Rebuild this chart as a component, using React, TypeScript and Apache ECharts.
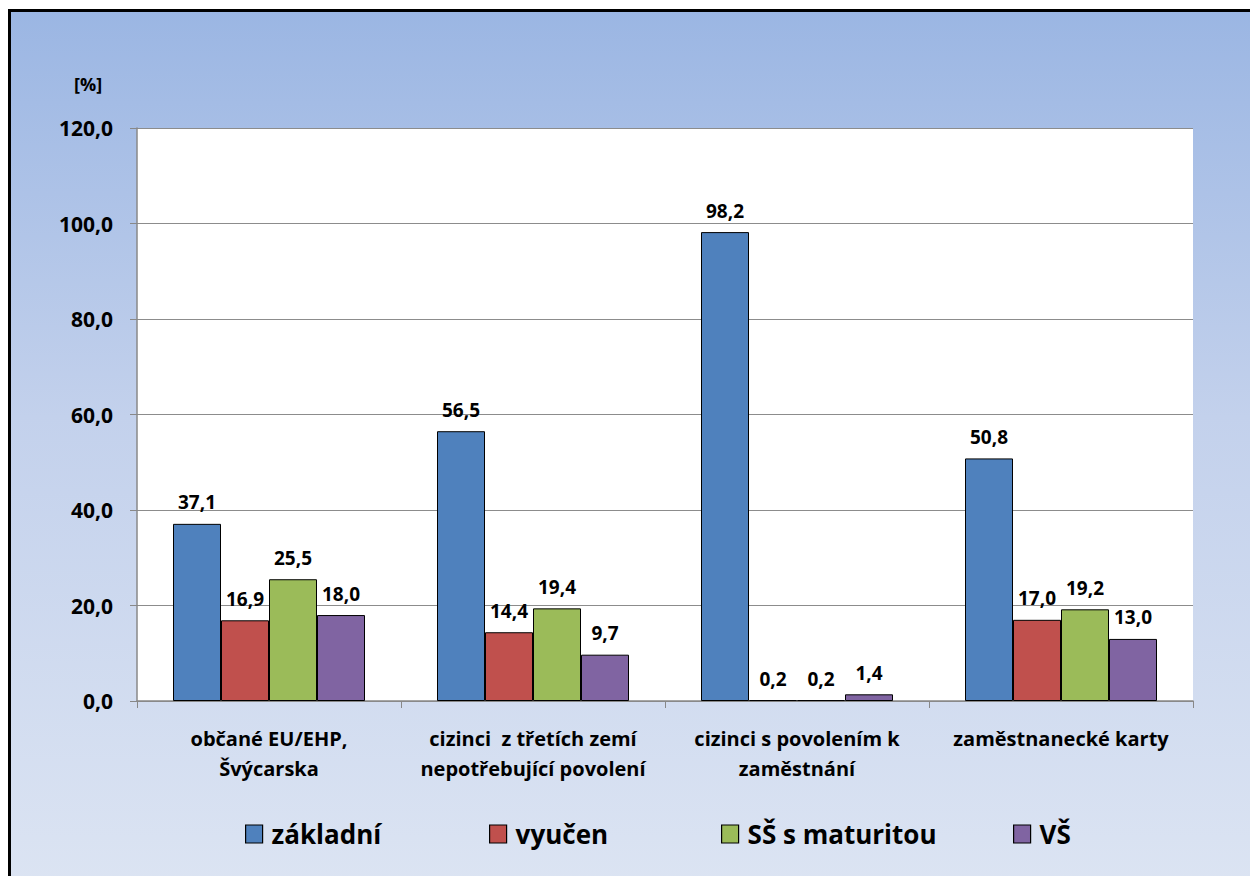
import React, { useEffect, useRef } from "react";
import * as echarts from "echarts";

const categories = [
  "občané EU/EHP,\nŠvýcarska",
  "cizinci  z třetích zemí\nnepotřebující povolení",
  "cizinci s povolením k\nzaměstnání",
  "zaměstnanecké karty",
];
const seriesNames = ["základní", "vyučen", "SŠ s maturitou", "VŠ"];
const zakladni = [37.1, 56.5, 98.2, 50.8];
const vyucen = [16.9, 14.4, 0.2, 17.0];
const maturita = [25.5, 19.4, 0.2, 19.2];
const vs = [18.0, 9.7, 1.4, 13.0];
const colors = ["#4f81bd", "#c0504d", "#9bbb59", "#8064a2"];
const yTicks = { min: 0, max: 120, interval: 20 };

const FONT = "'Open Sans', Lato, sans-serif";

export default function App() {
  const ref = useRef<HTMLDivElement>(null);
  useEffect(() => {
    document.body.style.overflow = "hidden";
    const chart = echarts.init(ref.current!, null, { renderer: "svg" });
    const data = [zakladni, vyucen, maturita, vs];
    const legendLefts = [229, 473, 705, 997];
    chart.setOption({
      animation: false,
      backgroundColor: "transparent",
      grid: {
        left: 126,
        top: 116,
        width: 1056,
        height: 573,
        show: true,
        backgroundColor: "#ffffff",
        borderWidth: 0,
      },
      graphic: [
        {
          type: "text",
          left: 63,
          top: 63,
          style: { text: "[%]", font: `bold 18px ${FONT}`, fill: "#000" },
        },
      ],
      legend: seriesNames.map((n, i) => ({
        data: [n],
        left: legendLefts[i],
        top: 804,
        itemWidth: 17,
        itemHeight: 18,
        itemGap: 6,
        textStyle: { fontFamily: FONT, fontWeight: "bold", fontSize: 26, color: "#000", padding: [0, 0, 0, 4] },
        icon: "rect",
        itemStyle: { borderColor: "#000", borderWidth: 1.2 },
      })),
      xAxis: {
        type: "category",
        data: categories,
        axisLine: { lineStyle: { color: "#888", width: 1.5 } },
        axisTick: { show: true, interval: 0, length: 7, lineStyle: { color: "#888" } },
        axisLabel: {
          interval: 0,
          hideOverlap: false,
          fontFamily: FONT,
          fontWeight: "bold",
          fontSize: 20,
          color: "#000",
          margin: 22,
          lineHeight: 30,
        },
      },
      yAxis: {
        type: "value",
        min: yTicks.min,
        max: yTicks.max,
        interval: yTicks.interval,
        axisLine: { show: true, lineStyle: { color: "#888", width: 1.5 } },
        axisTick: { show: true, length: 7, lineStyle: { color: "#888" } },
        splitLine: { lineStyle: { color: "#8c8c8c", width: 1 } },
        axisLabel: {
          fontFamily: FONT,
          fontWeight: "bold",
          fontSize: 21,
          color: "#000",
          margin: 24,
          formatter: (v: number) => v.toFixed(1).replace(".", ","),
        },
      },
      series: seriesNames.map((n, i) => ({
        name: n,
        type: "bar",
        data: data[i],
        barWidth: 48,
        barGap: "0%",
        itemStyle: { color: colors[i], borderColor: "#000", borderWidth: 1 },
        label: {
          show: true,
          position: "top",
          distance: 12,
          fontFamily: FONT,
          fontWeight: "bold",
          fontSize: 19,
          color: "#000",
          formatter: (p: any) => p.value.toFixed(1).replace(".", ","),
        },
      })),
    });
    return () => chart.dispose();
  }, []);
  return (
    <div
      style={{
        position: "absolute",
        left: 8,
        top: 9,
        width: 1300,
        height: 900,
        border: "3px solid #000",
        background: "linear-gradient(to bottom, #9bb6e3 0%, #c3d1ec 45%, #dde5f3 100%)",
      }}
    >
      <div ref={ref} style={{ width: 1300, height: 900 }} />
    </div>
  );
}
